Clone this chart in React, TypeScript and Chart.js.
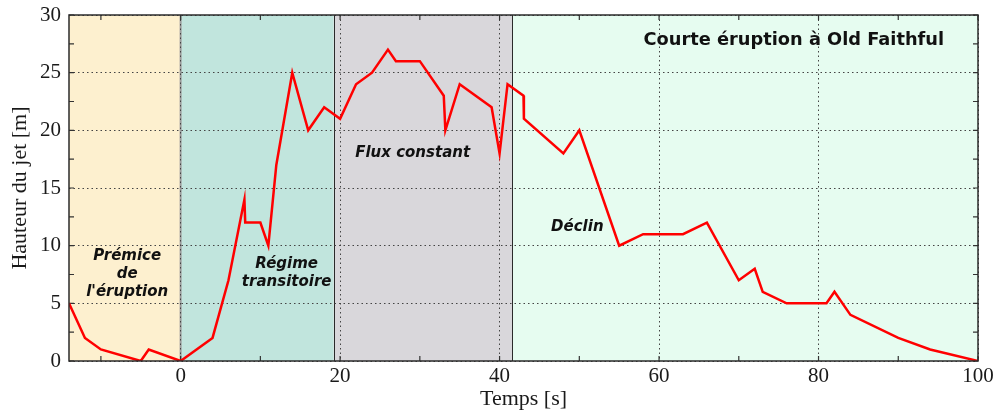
import React, { useEffect, useRef } from "react";
import { Chart, registerables } from "chart.js";

Chart.register(...registerables);

// ---- data ----
const timeValues = [-14, -12, -10, -5, -4, 0, 4, 6, 8, 8.1, 10, 11, 12, 14, 16, 18, 20, 22, 24, 26, 27, 30, 33, 33.2, 35, 39, 40, 41, 43, 43.05, 48, 50, 55, 58, 63, 66, 70, 72, 73, 76, 81, 82, 84, 90, 94, 100];
const heightValues = [5, 2, 1, 0, 1, 0, 2, 7, 14, 12, 12, 10, 17, 25, 20, 22, 21, 24, 25, 27, 26, 26, 23, 20, 24, 22, 18, 24, 23, 21, 18, 20, 10, 11, 11, 12, 7, 8, 6, 5, 5, 6, 4, 2, 1, 0];

const xTickLabels = [0, 20, 40, 60, 80, 100];
const yTickLabels = [0, 5, 10, 15, 20, 25, 30];
const xTickMarks = [-10, 0, 10, 20, 30, 40, 50, 60, 70, 80, 90, 100];
const yTickMarks = [0, 2.5, 5, 7.5, 10, 12.5, 15, 17.5, 20, 22.5, 25, 27.5, 30];

const phaseStarts = [-14, 0, 19.2, 41.6];
const phaseEnds = [0, 19.2, 41.6, 100];
const phaseColors = ["#fdf0cf", "#c1e5dd", "#d9d7db", "#e6fcf0"];
const phaseLabels = [["Prémice", "de", "l'éruption"], ["Régime", "transitoire"], ["Flux constant"], ["Déclin"]];
const phaseLabelX = [-6.7, 13.3, 29.1, 49.75];
const phaseLabelY = [7.5, 7.6, 18.0, 11.65];

const chartTitle = "Courte éruption à Old Faithful";
const titleX = 76.9;
const titleY = 27.8;

const decorPlugin = {
  id: "decor",
  beforeDraw(chart: any) {
    const { ctx, chartArea: a, scales } = chart;
    const x = scales.x;
    ctx.save();
    for (let i = 0; i < phaseStarts.length; i++) {
      const x0 = x.getPixelForValue(phaseStarts[i]);
      const x1 = x.getPixelForValue(phaseEnds[i]);
      ctx.fillStyle = phaseColors[i];
      ctx.fillRect(x0, a.top, x1 - x0, a.bottom - a.top);
    }
    const xz = x.getPixelForValue(phaseStarts[1]);
    ctx.strokeStyle = "#9c9c9c";
    ctx.lineWidth = 2;
    ctx.beginPath();
    ctx.moveTo(xz, a.top);
    ctx.lineTo(xz, a.bottom);
    ctx.stroke();
    ctx.strokeStyle = "#2a2a2a";
    ctx.lineWidth = 1;
    for (let i = 2; i < phaseStarts.length; i++) {
      const xb = Math.round(x.getPixelForValue(phaseStarts[i])) + 0.5;
      ctx.beginPath();
      ctx.moveTo(xb, a.top);
      ctx.lineTo(xb, a.bottom);
      ctx.stroke();
    }
    ctx.restore();
  },
  beforeDatasetsDraw(chart: any) {
    const { ctx, chartArea: a, scales } = chart;
    const { x, y } = scales;
    ctx.save();
    ctx.strokeStyle = "#333";
    ctx.lineWidth = 1.2;
    const tl = 5;
    for (const v of xTickMarks) {
      const px = x.getPixelForValue(v);
      ctx.beginPath();
      ctx.moveTo(px, a.bottom);
      ctx.lineTo(px, a.bottom - tl);
      ctx.moveTo(px, a.top);
      ctx.lineTo(px, a.top + tl);
      ctx.stroke();
    }
    for (const v of yTickMarks) {
      const py = y.getPixelForValue(v);
      ctx.beginPath();
      ctx.moveTo(a.left, py);
      ctx.lineTo(a.left + tl, py);
      ctx.moveTo(a.right, py);
      ctx.lineTo(a.right - tl, py);
      ctx.stroke();
    }
    ctx.restore();
  },
  afterDatasetsDraw(chart: any) {
    const { ctx, chartArea: a, scales } = chart;
    const { x, y } = scales;
    ctx.save();
    ctx.fillStyle = "#111";
    ctx.textAlign = "center";
    ctx.textBaseline = "middle";
    ctx.font = "italic bold 15px 'DejaVu Sans'";
    const lh = 18;
    for (let i = 0; i < phaseLabels.length; i++) {
      const lines = phaseLabels[i];
      const cx = x.getPixelForValue(phaseLabelX[i]);
      const cy = y.getPixelForValue(phaseLabelY[i]);
      const y0 = cy - ((lines.length - 1) * lh) / 2;
      lines.forEach((t, j) => ctx.fillText(t, cx, y0 + j * lh));
    }
    ctx.font = "bold 17.8px 'DejaVu Sans'";
    ctx.fillText(chartTitle, x.getPixelForValue(titleX), y.getPixelForValue(titleY));
    ctx.strokeStyle = "#2b2b2b";
    ctx.lineWidth = 1.5;
    ctx.strokeRect(a.left, a.top, a.right - a.left, a.bottom - a.top);
    ctx.restore();
  },
};

export default function App() {
  const ref = useRef<HTMLCanvasElement>(null);
  useEffect(() => {
    document.body.style.margin = "0";
    const points = timeValues.map((t, i) => ({ x: t, y: heightValues[i] }));
    const xTickFont = { family: "'Liberation Serif'", size: 21 };
    const yTickFont = { family: "'Liberation Serif'", size: 21, lineHeight: 0.6 };
    const titleFont = { family: "'Liberation Serif'", size: 22 };
    const chart = new Chart(ref.current as HTMLCanvasElement, {
      type: "line",
      data: {
        datasets: [
          {
            data: points,
            borderColor: "#ff0000",
            borderWidth: 2.5,
            pointRadius: 0,
            tension: 0,
            fill: false,
          },
        ],
      },
      plugins: [decorPlugin],
      options: {
        animation: false,
        responsive: false,
        devicePixelRatio: 1,
        layout: { padding: { top: 15, right: 19, left: 0, bottom: 0 } },
        plugins: { legend: { display: false }, tooltip: { enabled: false } },
        scales: {
          x: {
            type: "linear",
            min: -14,
            max: 100,
            afterBuildTicks: (scale: any) => {
              scale.ticks = xTickLabels.map((v) => ({ value: v }));
            },
            afterFit: (scale: any) => {
              scale.height = 51;
            },
            grid: { color: "#444", lineWidth: 1, drawTicks: false },
            border: { display: false, dash: [1.5, 3] },
            ticks: { font: xTickFont, color: "#1a1a1a", padding: 3, maxRotation: 0 },
            title: {
              display: true,
              text: "Temps [s]",
              font: titleFont,
              color: "#1a1a1a",
              padding: { top: 0, bottom: 0 },
            },
          },
          y: {
            type: "linear",
            min: 0,
            max: 30,
            afterBuildTicks: (scale: any) => {
              scale.ticks = yTickLabels.map((v) => ({ value: v }));
            },
            afterFit: (scale: any) => {
              scale.width = 69;
            },
            grid: { color: "#444", lineWidth: 1, drawTicks: false },
            border: { display: false, dash: [1.5, 3] },
            ticks: { font: yTickFont, color: "#1a1a1a", padding: 8 },
            title: {
              display: true,
              text: "Hauteur du jet [m]",
              font: titleFont,
              color: "#1a1a1a",
              padding: { top: 7, bottom: 0 },
            },
          },
        },
      },
    } as any);
    return () => chart.destroy();
  }, []);
  return (
    <div style={{ width: 997, height: 412 }}>
      <canvas ref={ref} width={997} height={412} style={{ display: "block" }} />
    </div>
  );
}
